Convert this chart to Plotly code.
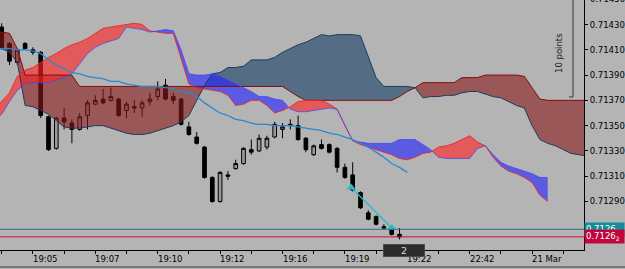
import plotly.graph_objects as go

# ---------------- data ----------------
bars = list(range(52))
open_ = [0.71428, 0.71415, 0.71400, 0.71415, 0.71410, 0.71408, 0.71357, 0.71332, 0.71356, 0.71352,
         0.71347, 0.71358, 0.71367, 0.71371, 0.71370, 0.71371, 0.71362, 0.71365, 0.71364, 0.71369,
         0.71373, 0.71382, 0.71373, 0.71371, 0.71349, 0.71341, 0.71333, 0.71309, 0.71290, 0.71311,
         0.71316, 0.71320, 0.71331, 0.71330, 0.71333, 0.71341, 0.71347, 0.71350, 0.71350, 0.71340,
         0.71327, 0.71335, 0.71335, 0.71332, 0.71317, 0.71311, 0.71297, 0.71281, 0.71278, 0.71270,
         0.71268, 0.71264]
high = [0.71431, 0.71416, 0.71411, 0.71416, 0.71412, 0.71409, 0.71358, 0.71357, 0.71364, 0.71355,
        0.71360, 0.71370, 0.71374, 0.71379, 0.71380, 0.71372, 0.71369, 0.71370, 0.71370, 0.71376,
        0.71385, 0.71387, 0.71376, 0.71372, 0.71353, 0.71345, 0.71334, 0.71310, 0.71314, 0.71314,
        0.71323, 0.71333, 0.71339, 0.71343, 0.71342, 0.71353, 0.71352, 0.71355, 0.71358, 0.71341,
        0.71335, 0.71339, 0.71336, 0.71333, 0.71320, 0.71321, 0.71298, 0.71283, 0.71279, 0.71272,
        0.71270, 0.71269]
low = [0.71410, 0.71398, 0.71398, 0.71410, 0.71406, 0.71356, 0.71330, 0.71331, 0.71347, 0.71336,
       0.71346, 0.71347, 0.71366, 0.71367, 0.71369, 0.71357, 0.71356, 0.71360, 0.71357, 0.71366,
       0.71370, 0.71370, 0.71367, 0.71350, 0.71342, 0.71335, 0.71308, 0.71289, 0.71289, 0.71307,
       0.71315, 0.71319, 0.71327, 0.71329, 0.71331, 0.71340, 0.71340, 0.71347, 0.71338, 0.71329,
       0.71326, 0.71331, 0.71328, 0.71313, 0.71308, 0.71298, 0.71284, 0.71275, 0.71271, 0.71268,
       0.71263, 0.71260]
close = [0.71411, 0.71401, 0.71410, 0.71411, 0.71408, 0.71358, 0.71331, 0.71356, 0.71353, 0.71347,
         0.71357, 0.71368, 0.71370, 0.71368, 0.71373, 0.71358, 0.71367, 0.71364, 0.71368, 0.71371,
         0.71379, 0.71371, 0.71370, 0.71351, 0.71343, 0.71336, 0.71309, 0.71290, 0.71313, 0.71310,
         0.71320, 0.71332, 0.71329, 0.71340, 0.71340, 0.71351, 0.71349, 0.71351, 0.71339, 0.71331,
         0.71334, 0.71332, 0.71329, 0.71317, 0.71309, 0.71299, 0.71285, 0.71276, 0.71272, 0.71269,
         0.71264, 0.71262]

# fast cloud (bars -1 .. 70)
cloud_a_index = list(range(-1, 71))
span_red = [0.71364, 0.71369, 0.71376, 0.71389, 0.71394, 0.71396, 0.71400, 0.71404, 0.71407, 0.71411,
            0.71414, 0.71416, 0.71419, 0.71423, 0.71427, 0.71428, 0.71429, 0.71430, 0.71431, 0.71430,
            0.71425, 0.71424, 0.71423, 0.71423, 0.71402, 0.71383, 0.71380, 0.71379, 0.71378, 0.71377,
            0.71374, 0.71366, 0.71367, 0.71370, 0.71370, 0.71366, 0.71360, 0.71362, 0.71365, 0.71369,
            0.71370, 0.71370, 0.71370, 0.71367, 0.71363, 0.71350, 0.71338, 0.71335, 0.71333, 0.71331,
            0.71329, 0.71327, 0.71324, 0.71323, 0.71325, 0.71328, 0.71329, 0.71333, 0.71334, 0.71336,
            0.71339, 0.71342, 0.71337, 0.71334, 0.71325, 0.71318, 0.71314, 0.71312, 0.71309, 0.71305,
            0.71295, 0.71290]
span_blue = [0.71354, 0.71359, 0.71369, 0.71378, 0.71383, 0.71384, 0.71384, 0.71384, 0.71386, 0.71388,
             0.71391, 0.71399, 0.71407, 0.71412, 0.71415, 0.71417, 0.71419, 0.71428, 0.71427, 0.71426,
             0.71424, 0.71425, 0.71426, 0.71425, 0.71410, 0.71391, 0.71390, 0.71390, 0.71391, 0.71389,
             0.71386, 0.71383, 0.71380, 0.71377, 0.71373, 0.71373, 0.71371, 0.71370, 0.71363, 0.71361,
             0.71361, 0.71362, 0.71363, 0.71364, 0.71363, 0.71350, 0.71338, 0.71337, 0.71336, 0.71336,
             0.71336, 0.71336, 0.71339, 0.71339, 0.71339, 0.71335, 0.71331, 0.71325, 0.71324, 0.71324,
             0.71324, 0.71324, 0.71332, 0.71334, 0.71327, 0.71321, 0.71318, 0.71316, 0.71314, 0.71312,
             0.71309, 0.71309]

# slow cloud (bars -1 .. 75)
cloud_b_index = list(range(-1, 76))
slow_red = [0.71424, 0.71424, 0.71423, 0.71411, 0.71390, 0.71390, 0.71390, 0.71390, 0.71390, 0.71390,
            0.71390, 0.71381, 0.71381, 0.71381, 0.71381, 0.71381, 0.71381, 0.71381, 0.71381, 0.71381,
            0.71381, 0.71381, 0.71381, 0.71381, 0.71381, 0.71381, 0.71381, 0.71381, 0.71381, 0.71381,
            0.71381, 0.71381, 0.71381, 0.71381, 0.71381, 0.71381, 0.71381, 0.71381, 0.71377, 0.71373,
            0.71370, 0.71370, 0.71370, 0.71370, 0.71370, 0.71370, 0.71370, 0.71370, 0.71370, 0.71370,
            0.71370, 0.71370, 0.71373, 0.71377, 0.71380, 0.71384, 0.71384, 0.71384, 0.71384, 0.71384,
            0.71388, 0.71388, 0.71388, 0.71390, 0.71390, 0.71390, 0.71390, 0.71390, 0.71389, 0.71380,
            0.71371, 0.71370, 0.71370, 0.71370, 0.71370, 0.71370, 0.71370]
slow_blue = [0.71413, 0.71411, 0.71408, 0.71400, 0.71366, 0.71365, 0.71362, 0.71359, 0.71354, 0.71349,
             0.71348, 0.71348, 0.71349, 0.71350, 0.71350, 0.71348, 0.71346, 0.71344, 0.71343, 0.71343,
             0.71344, 0.71346, 0.71348, 0.71350, 0.71353, 0.71358, 0.71370, 0.71382, 0.71391, 0.71392,
             0.71396, 0.71396, 0.71397, 0.71402, 0.71402, 0.71402, 0.71404, 0.71408, 0.71411, 0.71414,
             0.71416, 0.71419, 0.71422, 0.71421, 0.71422, 0.71422, 0.71422, 0.71421, 0.71404, 0.71388,
             0.71381, 0.71381, 0.71381, 0.71381, 0.71380, 0.71372, 0.71373, 0.71373, 0.71374, 0.71374,
             0.71376, 0.71377, 0.71377, 0.71375, 0.71373, 0.71372, 0.71369, 0.71366, 0.71364, 0.71350,
             0.71339, 0.71336, 0.71334, 0.71331, 0.71328, 0.71327, 0.71326]

# moving average (bars -1 .. 52)
ma_index = list(range(-1, 53))
ma_values = [0.71411, 0.71411, 0.71411, 0.71410, 0.71410, 0.71409, 0.71407, 0.71402, 0.71398, 0.71395,
             0.71392, 0.71391, 0.71389, 0.71388, 0.71387, 0.71385, 0.71385, 0.71383, 0.71382, 0.71381,
             0.71381, 0.71381, 0.71380, 0.71379, 0.71377, 0.71376, 0.71373, 0.71368, 0.71364, 0.71360,
             0.71358, 0.71355, 0.71354, 0.71352, 0.71351, 0.71351, 0.71350, 0.71350, 0.71350, 0.71349,
             0.71348, 0.71347, 0.71346, 0.71344, 0.71343, 0.71341, 0.71339, 0.71336, 0.71333, 0.71329,
             0.71325, 0.71320, 0.71317, 0.71313]

trend_line_x = [44.8, 50.0]
trend_line_y = [0.71301, 0.71269]

ask_price = 0.71268
bid_price = 0.71262

price_ticks = [0.71290, 0.71310, 0.71330, 0.71350, 0.71370, 0.71390, 0.71410, 0.71430]
top_price_label = 0.71450
time_tick_bars = [4, 12, 20, 28, 36, 44, 52, 60, 68]
time_tick_labels = ["19:05", "19:07", "19:10", "19:12", "19:16", "19:19", "19:22", "22:42", "21 Mar"]

# ---------------- helpers ----------------
def densify(x, a, b):
    X, A, B = [x[0]], [a[0]], [b[0]]
    for k in range(1, len(x)):
        d0 = a[k - 1] - b[k - 1]
        d1 = a[k] - b[k]
        if d0 * d1 < 0:
            t = d0 / (d0 - d1)
            xc = x[k - 1] + t * (x[k] - x[k - 1])
            yc = a[k - 1] + t * (a[k] - a[k - 1])
            X.append(xc); A.append(yc); B.append(yc)
        X.append(x[k]); A.append(a[k]); B.append(b[k])
    return X, A, B


def add_cloud(fig, x, a, b, col_a, col_b):
    X, A, B = densify(x, a, b)
    lo = [min(p, q) for p, q in zip(A, B)]
    for series, col in ((A, col_a), (B, col_b)):
        fig.add_trace(go.Scatter(x=X, y=lo, mode="lines", line=dict(width=0),
                                 hoverinfo="skip", showlegend=False))
        fig.add_trace(go.Scatter(x=X, y=series, mode="lines", line=dict(width=0),
                                 fill="tonexty", fillcolor=col,
                                 hoverinfo="skip", showlegend=False))


BG = "#b4b4b4"
FONT = "DejaVu Sans"
YMIN, YMAX = 0.712516, 0.714494
XMIN, XMAX = -0.218, 74.654

fig = go.Figure()

fig.add_trace(go.Candlestick(
    x=bars, open=open_, high=high, low=low, close=close,
    increasing=dict(line=dict(color="black", width=1), fillcolor="#9a9a9a"),
    decreasing=dict(line=dict(color="black", width=1), fillcolor="black"),
    whiskerwidth=0, hoverinfo="skip", showlegend=False))

add_cloud(fig, cloud_b_index, slow_red, slow_blue,
          "rgba(135,25,25,0.6)", "rgba(20,60,100,0.6)")
add_cloud(fig, cloud_a_index, span_red, span_blue,
          "rgba(255,35,35,0.62)", "rgba(35,35,255,0.62)")

for xs, ys, col in ((cloud_b_index, slow_red, "#8a0c0c"),
                    (cloud_b_index, slow_blue, "#1d3c5c"),
                    (cloud_a_index, span_red, "rgba(235,40,40,0.9)"),
                    (cloud_a_index, span_blue, "rgba(70,70,245,0.75)")):
    fig.add_trace(go.Scatter(x=xs, y=ys, mode="lines", line=dict(color=col, width=1),
                             hoverinfo="skip", showlegend=False))

fig.add_trace(go.Scatter(x=ma_index, y=ma_values, mode="lines",
                         line=dict(color="#2a88d2", width=1.3, shape="spline", smoothing=0.6),
                         hoverinfo="skip", showlegend=False))

fig.add_trace(go.Scatter(x=trend_line_x, y=trend_line_y, mode="lines+markers",
                         line=dict(color="#26bcc8", width=1.3),
                         marker=dict(symbol="triangle-up", size=8, color="#26bcc8"),
                         hoverinfo="skip", showlegend=False))

shapes = [
    dict(type="line", xref="paper", yref="y", x0=0, x1=1, y0=ask_price, y1=ask_price,
         line=dict(color="#226f86", width=1)),
    dict(type="line", xref="paper", yref="y", x0=0, x1=1, y0=bid_price, y1=bid_price,
         line=dict(color="#c8103c", width=1)),
    # ruler
    dict(type="line", xref="paper", yref="paper", x0=573 / 584, x1=573 / 584, y0=1.0, y1=(250 - 97) / 250,
         line=dict(color="#333333", width=1)),
    dict(type="line", xref="paper", yref="paper", x0=569 / 584, x1=573 / 584, y0=(250 - 97) / 250,
         y1=(250 - 97) / 250, line=dict(color="#333333", width=1)),
    # window bottom border
    dict(type="line", xref="paper", yref="paper", x0=-0.01, x1=1.08, y0=(250 - 267) / 250,
         y1=(250 - 267) / 250, line=dict(color="#3a3a3a", width=1)),
]

annotations = []
for b, t in zip(time_tick_bars, time_tick_labels):
    annotations.append(dict(x=b, y=(250 - 259) / 250, xref="x", yref="paper", text=t,
                            showarrow=False, xanchor="left", yanchor="middle", xshift=-2,
                            font=dict(family=FONT, size=8.5, color="black")))

annotations.append(dict(x=1, y=(top_price_label - YMIN) / (YMAX - YMIN), xref="paper", yref="paper",
                        text=f"{top_price_label:.5f}", showarrow=False, xanchor="left",
                        yanchor="middle", xshift=4, font=dict(family=FONT, size=8.5, color="black")))

annotations.append(dict(x=1, y=ask_price, xref="paper", yref="y",
                        text="0.7126<sub>8</sub>", showarrow=False, xanchor="left", yanchor="middle",
                        bgcolor="#168c98", width=37, height=11, align="left", borderpad=1,
                        font=dict(family=FONT, size=8.5, color="white")))
annotations.append(dict(x=1, y=bid_price, xref="paper", yref="y",
                        text="0.7126<sub>2</sub>", showarrow=False, xanchor="left", yanchor="middle",
                        bgcolor="#c0063c", width=37, height=11, align="left", borderpad=1,
                        font=dict(family=FONT, size=8.5, color="white")))

annotations.append(dict(x=(566) / 584, y=(250 - 31) / 250, xref="paper", yref="paper",
                        text="10 points", textangle=-90, showarrow=False,
                        font=dict(family=FONT, size=8.5, color="#222222")))

annotations.append(dict(x=bars[-1] + 0.6, y=0, xref="x", yref="paper", text="2", showarrow=False,
                        xanchor="center", yanchor="middle", bgcolor="#2c2c2c", bordercolor="#4a4a4a",
                        borderwidth=1, width=38, height=9,
                        font=dict(family=FONT, size=9.5, color="#d8d8d8")))

fig.update_layout(
    width=625, height=269, autosize=False,
    margin=dict(l=0, r=41, t=0, b=19),
    paper_bgcolor=BG, plot_bgcolor=BG,
    showlegend=False, hovermode=False,
    shapes=shapes, annotations=annotations,
    boxgap=0.33,
    xaxis=dict(range=[XMIN, XMAX], showgrid=False, zeroline=False, rangeslider=dict(visible=False),
               showline=True, linecolor="black", linewidth=1, mirror=False,
               tickmode="array", tickvals=list(range(0, 75, 4)), ticks="outside",
               ticklen=3, tickcolor="black", showticklabels=False, fixedrange=True),
    yaxis=dict(range=[YMIN, YMAX], side="right", showgrid=False, zeroline=False,
               showline=True, linecolor="black", linewidth=1,
               tickmode="array", tickvals=price_ticks, tickformat=".5f",
               ticks="outside", ticklen=3, tickcolor="black",
               tickfont=dict(family=FONT, size=8.5, color="black"), fixedrange=True),
)

fig.write_html("out.html")
